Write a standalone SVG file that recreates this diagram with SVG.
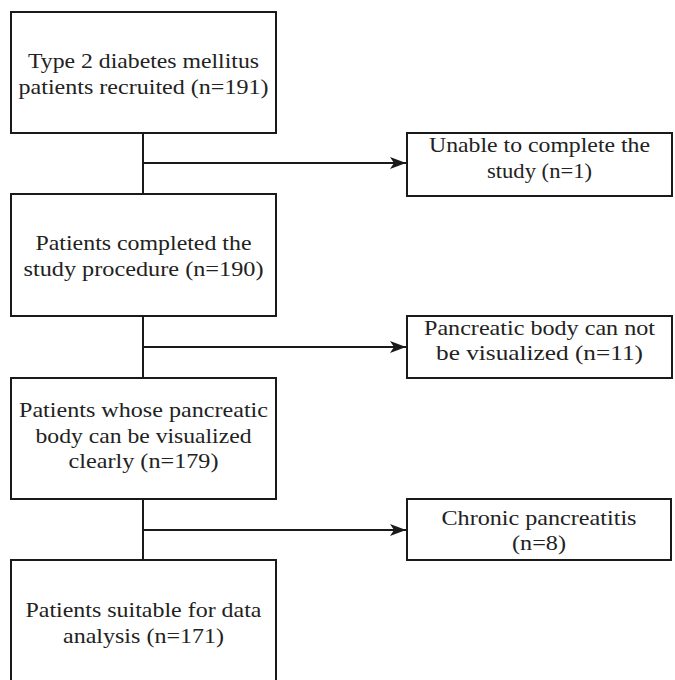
<svg xmlns="http://www.w3.org/2000/svg" width="675" height="680" viewBox="0 0 675 680">
<style>
.box{fill:#fff;stroke:#1a1a1a;stroke-width:2}
.lbl{font-family:"Liberation Serif","Times New Roman",serif;font-size:21px;fill:#222;text-anchor:middle}
.conn{fill:none;stroke:#1a1a1a;stroke-width:2}
</style>
<defs>
<marker id="arr" markerUnits="userSpaceOnUse" markerWidth="17" markerHeight="13" refX="16" refY="6.5" orient="auto">
<path d="M0,0.5 L16,6.5 L0,12.5 L4,6.5 z" fill="#1a1a1a"/>
</marker>
</defs>
<rect width="675" height="680" fill="#fff"/>
<g id="connectors">
<line class="conn" x1="143" y1="133" x2="143" y2="194"/>
<line class="conn" x1="143" y1="316" x2="143" y2="378"/>
<line class="conn" x1="143" y1="499" x2="143" y2="560"/>
<line class="conn" x1="143" y1="163" x2="406" y2="163" marker-end="url(#arr)"/>
<line class="conn" x1="143" y1="347" x2="406" y2="347" marker-end="url(#arr)"/>
<line class="conn" x1="143" y1="530" x2="406" y2="530" marker-end="url(#arr)"/>
</g>
<g id="n1">
<rect class="box" x="11" y="12" width="265" height="121"/>
<text class="lbl" x="143.5" y="68" textLength="231" lengthAdjust="spacingAndGlyphs">Type 2 diabetes mellitus</text>
<text class="lbl" x="143.5" y="94" textLength="250" lengthAdjust="spacingAndGlyphs">patients recruited (n=191)</text>
</g>
<g id="n2">
<rect class="box" x="11" y="194" width="265" height="122"/>
<text class="lbl" x="143.5" y="250" textLength="216" lengthAdjust="spacingAndGlyphs">Patients completed the</text>
<text class="lbl" x="143.5" y="276" textLength="240" lengthAdjust="spacingAndGlyphs">study procedure (n=190)</text>
</g>
<g id="n3">
<rect class="box" x="11" y="378" width="265" height="121"/>
<text class="lbl" x="143.5" y="417" textLength="249" lengthAdjust="spacingAndGlyphs">Patients whose pancreatic</text>
<text class="lbl" x="143.5" y="443" textLength="216" lengthAdjust="spacingAndGlyphs">body can be visualized</text>
<text class="lbl" x="143.5" y="468" textLength="150" lengthAdjust="spacingAndGlyphs">clearly (n=179)</text>
</g>
<g id="n4">
<rect class="box" x="11" y="560" width="265" height="140"/>
<text class="lbl" x="143.5" y="617" textLength="236" lengthAdjust="spacingAndGlyphs">Patients suitable for data</text>
<text class="lbl" x="143.5" y="643" textLength="161" lengthAdjust="spacingAndGlyphs">analysis (n=171)</text>
</g>
<g id="r1">
<rect class="box" x="407" y="133" width="265" height="63"/>
<text class="lbl" x="539.5" y="152" textLength="221" lengthAdjust="spacingAndGlyphs">Unable to complete the</text>
<text class="lbl" x="539.5" y="178" textLength="105" lengthAdjust="spacingAndGlyphs">study (n=1)</text>
</g>
<g id="r2">
<rect class="box" x="407" y="316" width="265" height="62"/>
<text class="lbl" x="539.5" y="335" textLength="231" lengthAdjust="spacingAndGlyphs">Pancreatic body can not</text>
<text class="lbl" x="539.5" y="360" textLength="207" lengthAdjust="spacingAndGlyphs">be visualized (n=11)</text>
</g>
<g id="r3">
<rect class="box" x="407" y="499" width="264" height="61"/>
<text class="lbl" x="539" y="525" textLength="195" lengthAdjust="spacingAndGlyphs">Chronic pancreatitis</text>
<text class="lbl" x="539" y="550" textLength="54" lengthAdjust="spacingAndGlyphs">(n=8)</text>
</g>
</svg>
